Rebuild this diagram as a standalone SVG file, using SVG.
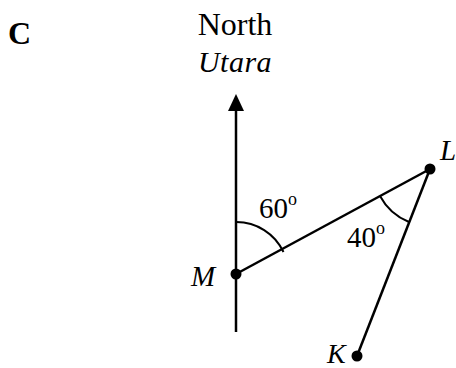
<svg xmlns="http://www.w3.org/2000/svg" width="456" height="368" viewBox="0 0 456 368">
<style>
.t{font-family:"Liberation Serif","Times New Roman",serif;fill:#000}
.i{font-style:italic}
.ln{stroke:#000;fill:none;stroke-width:2.5}
.arc{stroke:#000;fill:none;stroke-width:2}
.dot{fill:#000}
</style>
<rect width="456" height="368" fill="#fff"/>
<text class="t" x="8" y="44" font-size="32" font-weight="bold">C</text>
<text class="t" x="235" y="35" font-size="32" text-anchor="middle">North</text>
<text class="t i" x="235" y="72" font-size="30" text-anchor="middle" letter-spacing="0.5">Utara</text>
<g id="connectors">
<line class="ln" x1="236" y1="332" x2="236" y2="108" stroke-width="3"/>
<path d="M236 94 L244 111 L228 111 Z" fill="#000"/>
<line class="ln" x1="236" y1="274" x2="430" y2="169"/>
<line class="ln" x1="430" y1="169" x2="357" y2="356"/>
<path class="arc" d="M236 222 A52 52 0 0 1 283.5 252"/>
<path class="arc" d="M380 196 A57 57 0 0 0 409 222"/>
</g>
<g id="M"><circle class="dot" cx="236" cy="274" r="5.5"/><text class="t i" x="191" y="286" font-size="29">M</text></g>
<g id="L"><circle class="dot" cx="430" cy="169" r="5.5"/><text class="t i" x="440" y="160" font-size="29">L</text></g>
<g id="K"><circle class="dot" cx="357" cy="356" r="5.5"/><text class="t i" x="327" y="363" font-size="28">K</text></g>
<g id="angle60"><text class="t" x="259" y="218" font-size="29">60<tspan font-size="18" dy="-13">o</tspan></text></g>
<g id="angle40"><text class="t" x="347" y="247" font-size="29">40<tspan font-size="18" dy="-13">o</tspan></text></g>
</svg>
